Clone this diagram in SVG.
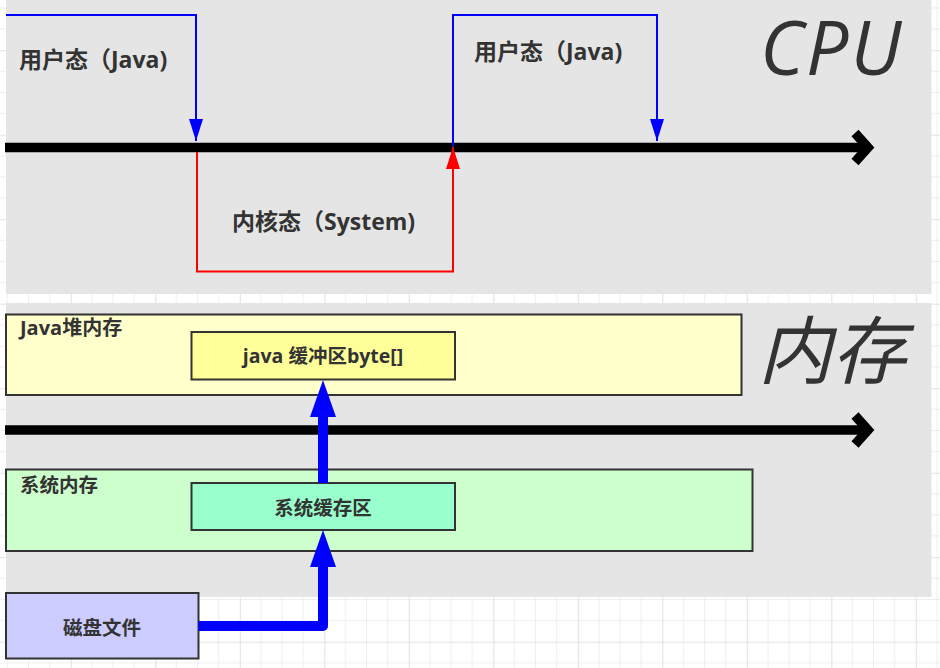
<svg xmlns="http://www.w3.org/2000/svg" width="940" height="668" viewBox="0 0 940 668">
<style>
.lbl{font-family:"Open Sans","Noto Sans CJK SC",sans-serif;font-weight:bold;fill:#333;}
.big{font-family:"Open Sans","Noto Sans CJK SC",sans-serif;font-style:italic;fill:#333;}
.box{stroke:#333;stroke-width:2;}
.thin{fill:none;stroke-width:2;}
.axis{fill:none;stroke:#000;stroke-width:9.5;}
.flow{fill:none;stroke:#0000ff;stroke-width:10;stroke-linejoin:round;}
</style>
<defs>
<pattern id="grid" x="70.8" y="50.2" width="84.5" height="84.5" patternUnits="userSpaceOnUse">
<path d="M21.125,0V84.5M42.25,0V84.5M63.375,0V84.5M0,21.125H84.5M0,42.25H84.5M0,63.375H84.5" stroke="#eeeeee" stroke-width="1"/>
<path d="M0.5,0V84.5M0,0.5H84.5" stroke="#e3e3e3" stroke-width="1.2"/>
</pattern>
<marker id="blueHead" markerUnits="userSpaceOnUse" viewBox="0 0 22 14" refX="22" refY="7" markerWidth="22" markerHeight="14" orient="auto">
<path d="M0,0L22,7L0,14Z" fill="#0000ff"/>
</marker>
<marker id="redHead" markerUnits="userSpaceOnUse" viewBox="0 0 22 14" refX="22" refY="7" markerWidth="22" markerHeight="14" orient="auto">
<path d="M0,0L22,7L0,14Z" fill="#ff0000"/>
</marker>
<marker id="flowHead" markerUnits="userSpaceOnUse" viewBox="0 0 37 26" refX="0" refY="13" markerWidth="37" markerHeight="26" orient="auto">
<path d="M0,0L37,13L0,26Z" fill="#0000ff"/>
</marker>
</defs>
<rect width="940" height="668" fill="#ffffff"/>
<rect width="940" height="668" fill="url(#grid)"/>
<g id="cpu-panel">
<rect x="6" y="0" width="925.5" height="294" fill="#e5e5e5"/>
<text class="big" x="760" y="75" font-size="75" letter-spacing="2">CPU</text>
</g>
<g id="mem-panel">
<rect x="6" y="303" width="925.5" height="294" fill="#e5e5e5"/>
<text class="big" x="758" y="378" font-size="74">内存</text>
</g>
<g id="java-heap">
<rect class="box" x="6" y="314.5" width="735.5" height="80.5" fill="#ffffcc" stroke-width="1.6"/>
<text class="lbl" x="20" y="335" font-size="20">Java堆内存</text>
</g>
<g id="java-buffer">
<rect class="box" x="191.5" y="332" width="263.5" height="47.5" fill="#ffff99"/>
<text class="lbl" x="323" y="363" font-size="19.5" text-anchor="middle">java 缓冲区byte[]</text>
</g>
<g id="sys-mem">
<rect class="box" x="6" y="469.5" width="746.5" height="81.5" fill="#ccffcc" stroke-width="1.6"/>
<text class="lbl" x="20" y="491.5" font-size="19.5">系统内存</text>
</g>
<g id="sys-buffer">
<rect class="box" x="191.5" y="483" width="263.5" height="47" fill="#99ffcc"/>
<text class="lbl" x="323" y="514.5" font-size="19.5" text-anchor="middle">系统缓存区</text>
</g>
<g id="disk-file">
<rect class="box" x="6" y="593" width="192.5" height="65.5" fill="#ccccff"/>
<text class="lbl" x="102" y="635" font-size="19.5" text-anchor="middle">磁盘文件</text>
</g>
<g id="cpu-labels">
<text class="lbl" x="19" y="68" font-size="23">用户态（Java)</text>
<text class="lbl" x="474" y="60" font-size="23">用户态（Java)</text>
<text class="lbl" x="232" y="229.5" font-size="23">内核态（System)</text>
</g>
<g id="connectors">
<path class="axis" d="M5,147.5H866"/>
<polyline class="axis" points="855,133 868,147.5 855,162" stroke-width="8.5"/>
<path class="axis" d="M5,430H866"/>
<polyline class="axis" points="855,415.5 868,430 855,444.5" stroke-width="8.5"/>
<path class="thin" stroke="#0000ff" d="M6,15H196V141" marker-end="url(#blueHead)"/>
<path class="thin" stroke="#0000ff" d="M453,148V15H657V141" marker-end="url(#blueHead)"/>
<path class="thin" stroke="#ff0000" d="M197,152V271.5H453V147" marker-end="url(#redHead)"/>
<path class="flow" d="M198.5,626H323V567" marker-end="url(#flowHead)"/>
<path class="flow" d="M323,483V417" marker-end="url(#flowHead)"/>
</g>
</svg>
